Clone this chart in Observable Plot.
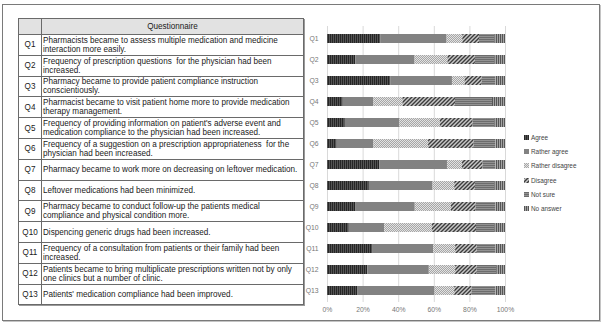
<!DOCTYPE html>
<html><head><meta charset="utf-8">
<script src="https://cdn.jsdelivr.net/npm/d3@7"></script>
<script src="https://cdn.jsdelivr.net/npm/@observablehq/plot@0.6"></script>
<style>
body{margin:0;background:#fff;font-family:"Liberation Sans",Arial,sans-serif;}
#wrap{position:relative;width:606px;height:326px;overflow:hidden;background:#fff;}
#frame{position:absolute;left:2px;top:4px;width:596px;height:315px;border:1px solid #7a7a7a;box-shadow:1px 1px 0 #c4c4c4;}
#tbl{position:absolute;left:18px;top:18px;border-collapse:collapse;width:286px;font-size:8.15px;color:#1a1a1a;box-shadow:1px 1px 0 #9a9a9a;}
#tbl td,#tbl th{border:1px solid #6a6a6a;padding:0 0 0 1px;line-height:9px;}
#tbl th{background:#e2e2e2;font-weight:normal;height:15px;padding:0;}
#tbl td.q{text-align:center;width:22px;padding:0;}
#tbl tr.r{height:20.8px;}
#chart{position:absolute;left:304px;top:5px;}
#legend{position:absolute;left:524px;top:130px;font-size:6.4px;color:#444;}
#legend div{height:14.3px;display:flex;align-items:center;white-space:nowrap;}
#legend svg{margin-right:2px;flex:none;}
</style>
</head><body>
<svg width="0" height="0" style="position:absolute">
<defs>
<pattern id="pAgree" width="2" height="4" patternUnits="userSpaceOnUse"><rect width="2" height="4" fill="#545454"/><rect width="1" height="4" fill="#262626"/></pattern>
<pattern id="pRAgree" width="4" height="4" patternUnits="userSpaceOnUse"><rect width="4" height="4" fill="#828282"/></pattern>
<pattern id="pRDis" width="2" height="2" patternUnits="userSpaceOnUse"><rect width="2" height="2" fill="#e2e2e2"/><rect width="1" height="1" fill="#a6a6a6"/><rect x="1" y="1" width="1" height="1" fill="#a6a6a6"/></pattern>
<pattern id="pDis" width="4" height="4" patternUnits="userSpaceOnUse"><rect width="4" height="4" fill="#c8c8c8"/><path d="M-1,1 l2,-2 M0,4 l4,-4 M3,5 l2,-2" stroke="#3c3c3c" stroke-width="1.4"/></pattern>
<pattern id="pNS" width="4" height="2" patternUnits="userSpaceOnUse"><rect width="4" height="2" fill="#929292"/><rect width="4" height="1" fill="#6c6c6c"/></pattern>
<pattern id="pNA" width="2" height="4" patternUnits="userSpaceOnUse"><rect width="2" height="4" fill="#a4a4a4"/><rect width="1" height="4" fill="#555555"/></pattern>
</defs>
</svg>
<div id="wrap">
<div id="frame"></div>
<table id="tbl"><tbody id="tb"></tbody></table>
<div id="chart"></div>
<div id="legend"></div>
</div>
<script>
const questions = ["Q1","Q2","Q3","Q4","Q5","Q6","Q7","Q8","Q9","Q10","Q11","Q12","Q13"];
const questionTexts = [
  "Pharmacists became to assess multiple medication and medicine interaction more easily.",
  "Frequency of prescription questions\u00a0 for the physician had been increased.",
  "Pharmacy became to provide patient compliance instruction conscientiously.",
  "Pharmacist became to visit patient home more to provide medication therapy management.",
  "Frequency of providing information on patient's adverse event and medication compliance to the physician had been increased.",
  "Frequency of a suggestion on a prescription appropriateness\u00a0 for the physician had been increased.",
  "Pharmacy became to work more on decreasing on leftover medication.",
  "Leftover medications had been minimized.",
  "Pharmacy became to conduct follow-up the patients medical compliance and physical condition more.",
  "Dispencing generic drugs had been increased.",
  "Frequency of a consultation from patients or their family had been increased.",
  "Patients became to bring multiplicate prescriptions written not by only one clinics but a number of clinic.",
  "Patients' medication compliance had been improved."
];
const categories = ["Agree","Rather agree","Rather disagree","Disagree","Not sure","No answer"];
const agree          = [30.0, 16.0, 35.5,  8.8, 10.0,  5.4, 29.5, 23.5, 16.1, 12.2, 25.3, 22.7, 16.9];
const ratherAgree    = [37.2, 33.2, 34.7, 17.3, 30.7, 20.7, 37.9, 35.8, 33.2, 19.9, 34.4, 34.5, 43.5];
const ratherDisagree = [ 8.8, 18.5,  7.1, 16.3, 22.7, 30.7,  8.4, 12.2, 20.3, 26.8, 12.3, 14.8, 11.1];
const disagree       = [ 9.4, 15.4,  9.6, 29.5, 18.4, 25.6, 11.6, 11.6, 13.9, 24.8, 12.1, 12.1,  9.7];
const notSure        = [ 8.6, 10.9,  7.7, 20.8, 12.2, 12.2,  7.2, 10.9, 11.1, 10.3, 10.5, 11.0, 13.4];
const noAnswer       = [ 6.0,  6.0,  5.4,  7.3,  6.0,  5.4,  5.4,  6.0,  5.4,  6.0,  5.4,  4.9,  5.4];
const xTicks = [0, 20, 40, 60, 80, 100];
const tableHeader = "Questionnaire";

const series = [agree, ratherAgree, ratherDisagree, disagree, notSure, noAnswer];
const patterns = ["url(#pAgree)","url(#pRAgree)","url(#pRDis)","url(#pDis)","url(#pNS)","url(#pNA)"];

// table
const tb = document.getElementById("tb");
const hr = document.createElement("tr");
hr.innerHTML = `<th></th><th>${tableHeader}</th>`;
tb.appendChild(hr);
questions.forEach((q, i) => {
  const tr = document.createElement("tr");
  tr.className = "r";
  const a = document.createElement("td"); a.className = "q"; a.textContent = q;
  const b = document.createElement("td"); b.textContent = questionTexts[i];
  tr.appendChild(a); tr.appendChild(b); tb.appendChild(tr);
});

// chart
const data = [];
questions.forEach((q, i) => series.forEach((s, j) => data.push({q, cat: categories[j], v: s[i]})));

const chart = Plot.plot({
  width: 293, height: 314,
  marginLeft: 23, marginRight: 92, marginTop: 21, marginBottom: 17,
  style: {fontFamily: "Liberation Sans, Arial, sans-serif", fontSize: "6.8px", color: "#777", background: "transparent"},
  x: {domain: [0, 100], ticks: xTicks, tickFormat: d => d + "%", tickSize: 0, tickPadding: 5, label: null},
  y: {domain: questions, paddingInner: 0.575, paddingOuter: 0.3, tickSize: 0, tickPadding: 9, label: null},
  color: {domain: categories, range: patterns},
  marks: [
    Plot.ruleX(xTicks, {stroke: "#d9d9d9", strokeWidth: 1}),
    Plot.barX(data, {x: "v", y: "q", fill: "cat"})
  ]
});
document.getElementById("chart").appendChild(chart);

// legend
const lg = document.getElementById("legend");
categories.forEach((c, i) => {
  const d = document.createElement("div");
  d.innerHTML = `<svg width="5" height="5"><rect width="5" height="5" fill="${patterns[i]}"/></svg><span>${c}</span>`;
  lg.appendChild(d);
});
</script>
</body></html>
